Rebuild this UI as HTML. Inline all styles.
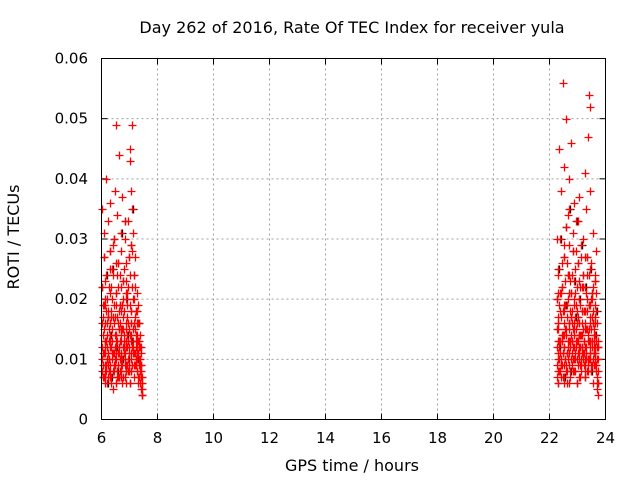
<!DOCTYPE html>
<html><head><meta charset="utf-8"><style>
body{margin:0;background:#fff}
svg{display:block;font-family:"DejaVu Sans","Liberation Sans",sans-serif}
</style></head><body>
<svg id="chart" width="640" height="480" viewBox="0 0 640 480">
<rect width="640" height="480" fill="#fff"/>
<text x="352" y="33" font-size="16" text-anchor="middle">Day 262 of 2016, Rate Of TEC Index for receiver yula</text>
<g id="grid"></g>
<g id="ticks"></g>
<g id="marks"></g>
<rect x="101.5" y="58.5" width="504" height="361" fill="none" stroke="#000" stroke-width="1"/>
<text x="352" y="471" font-size="16" text-anchor="middle">GPS time / hours</text>
<text transform="translate(19,237) rotate(-90)" font-size="16" text-anchor="middle">ROTI / TECUs</text>
</svg>
<script>
const xTicks=[6,8,10,12,14,16,18,20,22,24];
const yTicks=[0,0.01,0.02,0.03,0.04,0.05,0.06];
const yTickLabels=["0","0.01","0.02","0.03","0.04","0.05","0.06"];
const leftHours=[6.02,6.05,6.08,6.11,6.14,6.17,6.20,6.23,6.26,6.29,6.32,6.35,6.38,6.41,6.44,6.47,6.50,6.53,6.56,6.59,6.62,6.65,6.68,6.71,6.74,6.77,6.80,6.83,6.86,6.89,6.92,6.95,6.98,7.01,7.04,7.07,7.10,7.13,7.16,7.19,7.22,7.25,7.28,7.31,7.34,7.37,7.40,7.43];
const leftSat1=[0.012,0.009,0.015,0.008,0.011,0.018,0.010,0.007,0.013,0.016,0.009,0.012,0.020,0.008,0.011,0.014,0.006,0.010,0.017,0.009,0.012,0.008,0.015,0.011,0.019,0.007,0.013,0.010,0.016,0.009,0.012,0.022,0.008,0.014,0.011,0.018,0.009,0.013,0.007,0.015,0.010,0.012,0.008,0.011,0.009,0.006,0.005,0.005];
const leftSat2=[0.022,0.007,0.027,0.013,0.009,0.024,0.006,0.017,0.010,0.028,0.014,0.007,0.025,0.011,0.030,0.009,0.021,0.012,0.008,0.026,0.015,0.019,0.007,0.031,0.010,0.023,0.012,0.033,0.008,0.020,0.014,0.010,0.027,0.006,0.029,0.013,0.035,0.011,0.024,0.009,0.018,0.013,0.010,0.016,0.007,0.012,0.009,0.004];
const leftSat3=[0.035,0.017,0.031,0.006,0.019,0.040,0.014,0.033,0.008,0.025,0.036,0.018,0.011,0.029,0.016,0.038,0.013,0.006,0.034,0.022,0.044,0.016,0.028,0.009,0.037,0.020,0.014,0.030,0.012,0.026,0.021,0.033,0.015,0.043,0.018,0.038,0.022,0.031,0.016,0.027,0.014,0.021,0.011,0.019,0.013,0.008,0.007,0.004];
const leftSat4=[0.010,0.014,0.007,0.020,0.012,0.009,0.016,0.011,0.022,0.008,0.013,0.017,0.010,0.005,0.019,0.012,0.049,0.014,0.024,0.011,0.007,0.013,0.010,0.018,0.006,0.015,0.011,0.009,0.021,0.013,0.017,0.008,0.012,0.045,0.010,0.016,0.049,0.012,0.020,0.011,0.009,0.014,0.011,0.007,0.016,0.010,0.012,0.006];
const leftSat5=[0.016,0.011,0.019,0.013,0.023,0.008,0.012,0.018,0.010,0.014,0.021,0.006,0.015,0.024,0.009,0.017,0.011,0.026,0.013,0.007,0.018,0.010,0.022,0.014,0.009,0.017,0.025,0.011,0.006,0.015,0.019,0.013,0.009,0.024,0.016,0.008,0.028,0.015,0.011,0.022,0.012,0.008,0.016,0.013,0.010,0.014,0.008,0.006];
const leftSat6=[0.008,0.019,0.011,0.016,0.007,0.013,0.020,0.009,0.015,0.012,0.007,0.022,0.013,0.017,0.008,0.010,0.019,0.014,0.007,0.016,0.011,0.024,0.013,0.008,0.015,0.012,0.018,0.007,0.013,0.023,0.009,0.016,0.011,0.019,0.008,0.014,0.012,0.020,0.009,0.017,0.013,0.010,0.018,0.006,0.012,0.009,0.011,0.007];
const rightHours=[22.26,22.29,22.32,22.35,22.38,22.41,22.44,22.47,22.50,22.53,22.56,22.59,22.62,22.65,22.68,22.71,22.74,22.77,22.80,22.83,22.86,22.89,22.92,22.95,22.98,23.01,23.04,23.07,23.10,23.13,23.16,23.19,23.22,23.25,23.28,23.31,23.34,23.37,23.40,23.43,23.46,23.49,23.52,23.55,23.58,23.61,23.64,23.67,23.70,23.73];
const rightSat1=[0.012,0.008,0.015,0.010,0.018,0.007,0.013,0.011,0.009,0.016,0.010,0.014,0.008,0.020,0.011,0.006,0.013,0.017,0.009,0.012,0.015,0.008,0.011,0.019,0.010,0.013,0.007,0.016,0.012,0.009,0.014,0.011,0.018,0.008,0.012,0.010,0.015,0.009,0.013,0.011,0.017,0.008,0.012,0.010,0.014,0.009,0.011,0.013,0.007,0.010];
const rightSat2=[0.020,0.006,0.025,0.012,0.030,0.009,0.022,0.014,0.027,0.007,0.019,0.032,0.011,0.024,0.016,0.035,0.008,0.021,0.013,0.028,0.010,0.023,0.017,0.033,0.006,0.026,0.014,0.020,0.009,0.029,0.012,0.024,0.018,0.007,0.022,0.015,0.027,0.010,0.019,0.013,0.025,0.008,0.021,0.016,0.011,0.023,0.014,0.018,0.006,0.012];
const rightSat3=[0.030,0.017,0.024,0.045,0.021,0.038,0.013,0.056,0.029,0.042,0.019,0.050,0.026,0.034,0.015,0.040,0.023,0.046,0.018,0.031,0.012,0.036,0.025,0.028,0.016,0.033,0.020,0.037,0.014,0.027,0.022,0.030,0.011,0.041,0.018,0.035,0.024,0.047,0.054,0.052,0.038,0.026,0.020,0.031,0.015,0.024,0.019,0.028,0.016,0.013];
const rightSat4=[0.009,0.013,0.016,0.008,0.011,0.021,0.014,0.007,0.012,0.018,0.010,0.015,0.006,0.013,0.024,0.009,0.012,0.017,0.011,0.008,0.014,0.019,0.010,0.013,0.022,0.009,0.016,0.011,0.007,0.014,0.018,0.010,0.013,0.009,0.016,0.012,0.020,0.008,0.015,0.011,0.013,0.009,0.017,0.006,0.012,0.010,0.014,0.008,0.005,0.004];
const rightSat5=[0.015,0.010,0.021,0.013,0.008,0.017,0.026,0.011,0.019,0.014,0.023,0.009,0.017,0.012,0.029,0.013,0.018,0.010,0.024,0.015,0.008,0.016,0.021,0.012,0.018,0.011,0.023,0.014,0.019,0.010,0.016,0.022,0.009,0.015,0.027,0.011,0.018,0.013,0.024,0.016,0.010,0.020,0.013,0.022,0.009,0.017,0.012,0.021,0.010,0.008];
const rightSat6=[0.007,0.016,0.011,0.019,0.013,0.010,0.009,0.018,0.006,0.012,0.015,0.008,0.019,0.010,0.013,0.021,0.007,0.014,0.016,0.010,0.020,0.012,0.008,0.015,0.013,0.017,0.010,0.012,0.022,0.008,0.011,0.015,0.013,0.018,0.010,0.021,0.008,0.014,0.010,0.019,0.012,0.015,0.009,0.018,0.013,0.011,0.016,0.009,0.012,0.006];

const X0=101.5,X1=605.5,Y0=419.5,Y1=58.5;
const xs=h=>X0+(h-6)/(24-6)*(X1-X0);
const ys=v=>Y0-v/0.06*(Y0-Y1);
const NS="http://www.w3.org/2000/svg";
function mk(tag,attrs,parent){const e=document.createElementNS(NS,tag);for(const k in attrs)e.setAttribute(k,attrs[k]);parent.appendChild(e);return e;}
const grid=document.getElementById('grid'),ticks=document.getElementById('ticks'),marks=document.getElementById('marks');
xTicks.forEach(t=>{
  const x=xs(t);
  if(t>6&&t<24){const g=mk('line',{x1:x,x2:x,y1:Y1,y2:Y0,stroke:'#a0a0a0','stroke-dasharray':'2,3'},grid);
  
  }
  mk('line',{x1:x,x2:x,y1:Y0,y2:Y0-6,stroke:'#000'},ticks);
  mk('line',{x1:x,x2:x,y1:Y1,y2:Y1+6,stroke:'#000'},ticks);
  const l=mk('text',{x:x,y:443,'font-size':15,'text-anchor':'middle'},ticks);
  l.textContent=t;
  
  
});
yTicks.forEach((t,i)=>{
  const y=ys(t);
  if(i>0&&i<yTicks.length-1){const g=mk('line',{x1:X0,x2:X1,y1:y,y2:y,stroke:'#a0a0a0','stroke-dasharray':'2,3'},grid);
  
  }
  mk('line',{x1:X0,x2:X0+6,y1:y,y2:y,stroke:'#000'},ticks);
  mk('line',{x1:X1,x2:X1-6,y1:y,y2:y,stroke:'#000'},ticks);
  const l=mk('text',{x:88,y:y+5,'font-size':15,'text-anchor':'end'},ticks);
  l.textContent=yTickLabels[i];
  
  
});
function plus(h,v,color){
  const x=Math.round(xs(h))+0.5,y=Math.round(ys(v))+0.5;
  const p=mk('path',{d:`M${x-4},${y}H${x+4}M${x},${y-4}V${y+4}`,stroke:color,'stroke-width':1.3,fill:'none'},marks);
  
  
}
const groups=[[leftHours,[leftSat1,leftSat2,leftSat3,leftSat4,leftSat5,leftSat6]],[rightHours,[rightSat1,rightSat2,rightSat3,rightSat4,rightSat5,rightSat6]]];
groups.forEach(([hrs,sets])=>{
  sets[1].forEach((v,i)=>plus(hrs[i]+0.015,v,'#000'));
  sets.forEach(vals=>vals.forEach((v,i)=>plus(hrs[i],v,'#ff0000')));
});
</script>
</body></html>
